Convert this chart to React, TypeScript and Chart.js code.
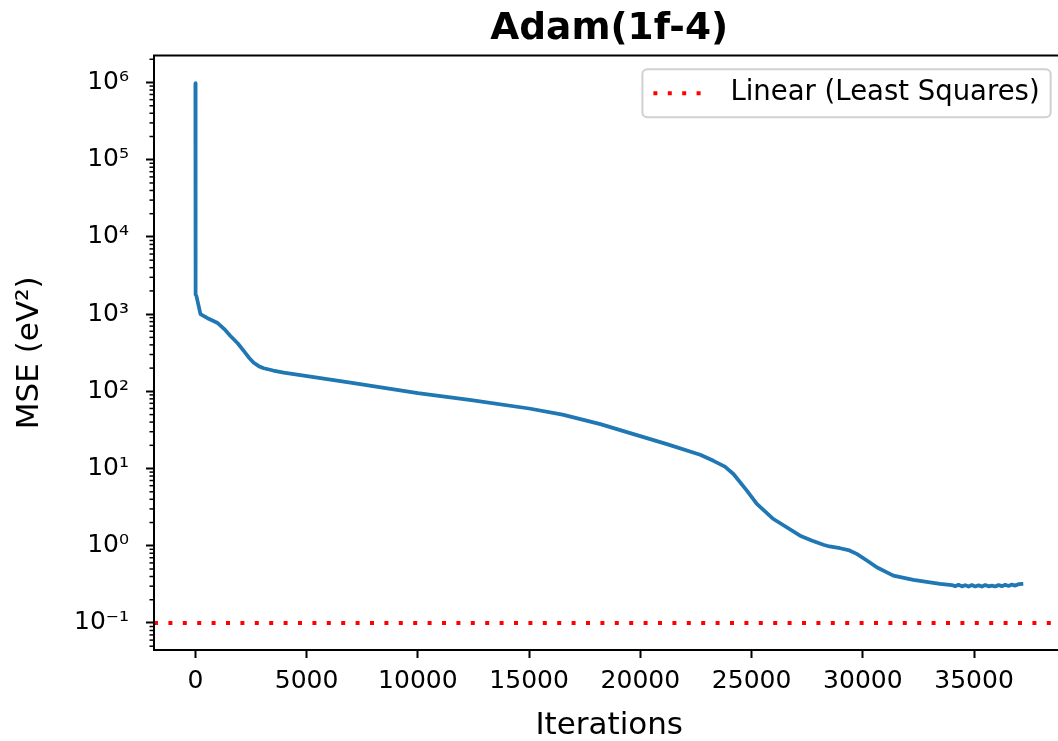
import React, { useEffect, useRef } from "react";
import { Chart, registerables } from "chart.js";

Chart.register(...registerables);

// ---- data ----
const ITERATIONS = [
  0, 10, 50, 229, 600, 979, 1300, 1577, 1900, 2174, 2400, 2623, 2850, 3073, 3500, 3971,
  5471, 6967, 10000, 12400, 15000, 16500, 18203, 19693, 21193, 22690, 23287, 23800,
  24185, 24787, 25236, 25982, 27180, 27700, 28227, 28500, 28977, 29400, 29727, 30200,
  30625, 31371, 32271, 33470, 34000, 34150, 34300, 34450, 34600, 34750, 34900, 35050,
  35200, 35350, 35500, 35650, 35800, 35950, 36100, 36250, 36400, 36550, 36700, 36850,
  37000, 37212,
];
const MSE = [
  980000, 1800, 1700, 1000, 870, 775, 640, 521, 420, 334, 275, 235, 212, 199, 186, 175,
  151, 130, 95, 77, 60, 50, 37.6, 27.9, 20.7, 15.1, 12.6, 10.6,
  8.5, 5.17, 3.48, 2.22, 1.35, 1.17, 1.03, 0.98, 0.93, 0.87, 0.785, 0.64,
  0.527, 0.411, 0.362, 0.321, 0.31, 0.3, 0.312, 0.298, 0.309, 0.296, 0.31, 0.297,
  0.308, 0.296, 0.31, 0.298, 0.305, 0.297, 0.31, 0.3, 0.312, 0.302, 0.314, 0.305,
  0.318, 0.321,
];
const LS_MSE = 0.1;
const X_TICKS = [0, 5000, 10000, 15000, 20000, 25000, 30000, 35000];
const Y_DECADES = [-1, 0, 1, 2, 3, 4, 5, 6];
const TITLE = "Adam(1f-4)";
const X_LABEL = "Iterations";
const Y_LABEL = "MSE (eV²)";
const SERIES_LABEL = "Adam";
const LS_LABEL = "Linear (Least Squares)";

const X_MIN = -1860;
const X_MAX = 39060;
const Y_MIN = Math.pow(10, -1.35);
const Y_MAX = Math.pow(10, 6.35);

const SUP: Record<string, string> = {
  "-": "⁻", "0": "⁰", "1": "¹", "2": "²", "3": "³", "4": "⁴",
  "5": "⁵", "6": "⁶", "7": "⁷", "8": "⁸", "9": "⁹",
};
const FONT = "'DejaVu Sans', sans-serif";

const framePlugin = {
  id: "frameAndExtras",
  afterDraw(chart: any) {
    const { ctx, chartArea } = chart;
    const { left, right, top, bottom } = chartArea;
    const y = chart.scales.y;
    ctx.save();
    // minor log ticks
    ctx.strokeStyle = "#000";
    ctx.lineWidth = 1.5;
    for (let e = -2; e <= 6; e++) {
      for (let m = 2; m <= 9; m++) {
        const v = m * Math.pow(10, e);
        if (v < Y_MIN || v > Y_MAX) continue;
        const py = y.getPixelForValue(v);
        ctx.beginPath();
        ctx.moveTo(left - 4.5, py);
        ctx.lineTo(left, py);
        ctx.stroke();
      }
    }
    // frame (spines)
    ctx.lineWidth = 2;
    ctx.strokeStyle = "#000";
    ctx.strokeRect(left, top, right - left, bottom - top);

    // legend (inside, upper right)
    const fs = 27.5;
    ctx.font = `${fs}px ${FONT}`;
    const textW = ctx.measureText(LS_LABEL).width;
    const pad = 0.4 * fs;
    const handle = 2 * fs;
    const textPad = 0.8 * fs;
    const boxW = pad + handle + textPad + textW + pad;
    const boxH = 48;
    const bx = right - 0.5 * fs - boxW;
    const by = top + 0.5 * fs;
    ctx.beginPath();
    const r = 5;
    ctx.moveTo(bx + r, by);
    ctx.arcTo(bx + boxW, by, bx + boxW, by + boxH, r);
    ctx.arcTo(bx + boxW, by + boxH, bx, by + boxH, r);
    ctx.arcTo(bx, by + boxH, bx, by, r);
    ctx.arcTo(bx, by, bx + boxW, by, r);
    ctx.closePath();
    ctx.fillStyle = "rgba(255,255,255,0.8)";
    ctx.fill();
    ctx.strokeStyle = "#d0d0d0";
    ctx.lineWidth = 2;
    ctx.stroke();
    const cy = by + boxH / 2;
    ctx.beginPath();
    ctx.setLineDash([4, 10.4]);
    ctx.lineCap = "butt";
    ctx.strokeStyle = "#ff0000";
    ctx.lineWidth = 4;
    ctx.moveTo(bx + pad, cy);
    ctx.lineTo(bx + pad + handle, cy);
    ctx.stroke();
    ctx.setLineDash([]);
    ctx.fillStyle = "#000";
    ctx.textBaseline = "middle";
    ctx.textAlign = "left";
    ctx.fillText(LS_LABEL, bx + pad + handle + textPad, cy);
    ctx.restore();
  },
};

export default function App() {
  const ref = useRef<HTMLCanvasElement | null>(null);
  useEffect(() => {
    if (!ref.current) return;
    Chart.defaults.font.family = FONT;
    Chart.defaults.color = "#000";
    const chart = new Chart(ref.current, {
      type: "line",
      data: {
        datasets: [
          {
            label: SERIES_LABEL,
            data: ITERATIONS.map((x, i) => ({ x, y: MSE[i] })),
            borderColor: "#1f77b4",
            borderWidth: 3.75,
            pointRadius: 0,
            tension: 0,
            borderJoinStyle: "round",
            fill: false,
          },
          {
            label: LS_LABEL,
            data: [
              { x: X_MIN, y: LS_MSE },
              { x: X_MAX, y: LS_MSE },
            ],
            borderColor: "#ff0000",
            borderWidth: 4,
            borderDash: [4, 10.4],
            borderCapStyle: "butt",
            pointRadius: 0,
            fill: false,
          },
        ],
      },
      options: {
        responsive: false,
        animation: false,
        layout: { padding: { left: 0, right: 5.6, top: 0, bottom: 0 } },
        plugins: {
          legend: { display: false },
          tooltip: { enabled: false },
          title: {
            display: true,
            text: TITLE,
            fullSize: false,
            color: "#000",
            font: { family: FONT, size: 37.5, weight: "bold", lineHeight: 1.2 },
            padding: { top: 7, bottom: 3.5 },
          },
        },
        scales: {
          x: {
            type: "linear",
            min: X_MIN,
            max: X_MAX,
            bounds: "data",
            afterFit: (s: any) => {
              s.height = 91;
            },
            afterBuildTicks: (s: any) => {
              s.ticks = X_TICKS.map((v) => ({ value: v }));
            },
            ticks: {
              autoSkip: false,
              maxRotation: 0,
              padding: 8,
              color: "#000",
              font: { family: FONT, size: 25, lineHeight: 1.2 },
              callback: (v: any) => String(v),
            },
            grid: {
              display: true,
              drawOnChartArea: false,
              drawTicks: true,
              tickLength: 8,
              tickWidth: 2,
              tickColor: "#000",
            },
            border: { display: false },
            title: {
              display: true,
              text: X_LABEL,
              color: "#000",
              font: { family: FONT, size: 31, lineHeight: 1 },
              padding: { top: 0, bottom: 0 },
            },
          },
          y: {
            type: "logarithmic",
            min: Y_MIN,
            max: Y_MAX,
            bounds: "data",
            afterFit: (s: any) => {
              s.width = 154;
            },
            afterBuildTicks: (s: any) => {
              s.ticks = Y_DECADES.map((e) => ({ value: Math.pow(10, e), major: true }));
            },
            ticks: {
              autoSkip: false,
              padding: 17,
              color: "#000",
              font: { family: FONT, size: 25, lineHeight: 1.2 },
              callback: (v: any) => {
                const e = Math.round(Math.log10(Number(v)));
                return "10" + String(e).split("").map((c) => SUP[c] || c).join("");
              },
            },
            grid: {
              display: true,
              drawOnChartArea: false,
              drawTicks: true,
              tickLength: 8,
              tickWidth: 2,
              tickColor: "#000",
            },
            border: { display: false },
            title: {
              display: true,
              text: Y_LABEL,
              color: "#000",
              font: { family: FONT, size: 31, lineHeight: 1 },
              padding: { top: 14.4, bottom: 0 },
            },
          },
        },
      },
      plugins: [framePlugin],
    } as any);
    return () => chart.destroy();
  }, []);

  return (
    <div
      style={{
        position: "absolute",
        left: 0,
        top: 0,
        width: 1058,
        height: 741,
        overflow: "hidden",
        background: "#fff",
      }}
    >
      <canvas ref={ref} width={1070} height={741} style={{ display: "block" }} />
    </div>
  );
}
